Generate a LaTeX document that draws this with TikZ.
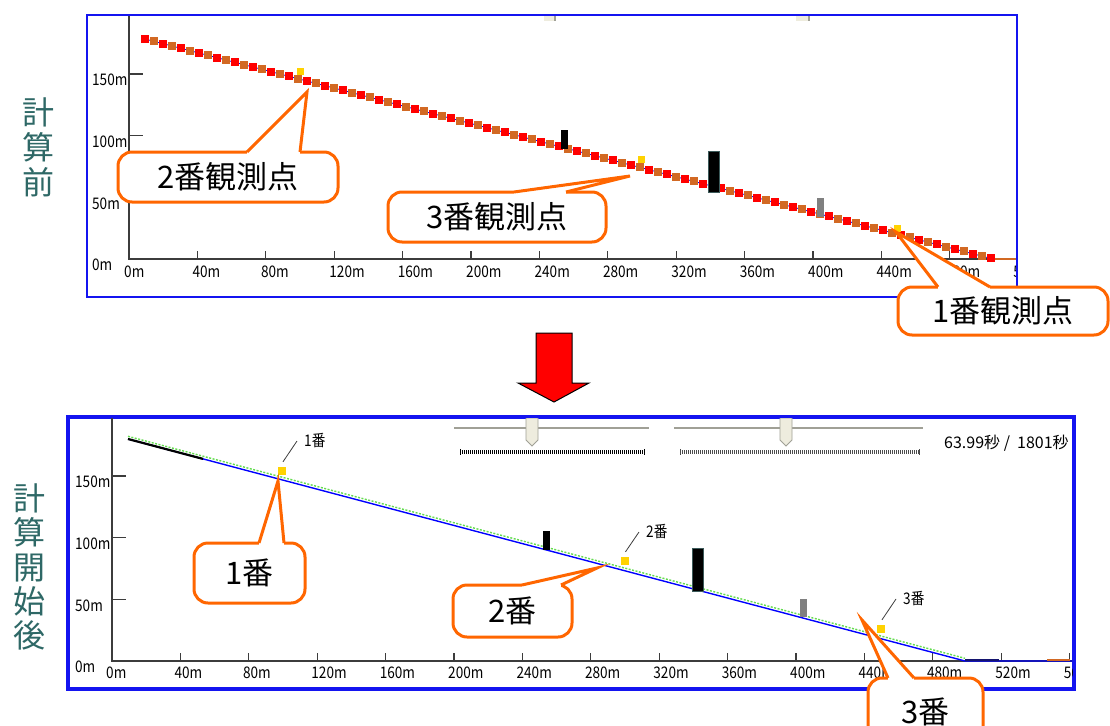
\documentclass[tikz,border=0pt]{standalone}
\usepackage{fontspec}
\newfontfamily\jp{Noto Sans CJK JP}
\newfontfamily\ui[FakeStretch=0.85]{Noto Sans CJK JP}
\definecolor{panelblue}{RGB}{20,20,240}
\definecolor{calloutorange}{RGB}{255,102,0}
\definecolor{dotorange}{RGB}{210,105,35}
\definecolor{obsyellow}{RGB}{255,210,0}
\definecolor{sideteal}{RGB}{46,104,102}
\definecolor{axisgray}{RGB}{60,60,60}
\definecolor{thumbbeige}{RGB}{238,236,222}
\definecolor{trackgray}{RGB}{160,160,150}
\definecolor{slopegreen}{RGB}{100,220,80}
\definecolor{barslate}{RGB}{60,90,90}
\definecolor{flatnavy}{RGB}{20,20,110}
\begin{document}
\begin{tikzpicture}[x=1pt, y=-1pt,
  panel/.style={draw=panelblue, fill=white},
  axis/.style={draw=axisgray, line width=1.3pt},
  axlbl/.style={font=\ui\fontsize{16}{16}\selectfont, anchor=west, inner sep=0pt},
  callout/.style={draw=calloutorange, line width=3pt, fill=white, rounded corners=14pt,
    inner sep=0pt, font=\jp\fontsize{31}{31}\selectfont},
  ptr/.style={draw=calloutorange, line width=3pt},
  obspt/.style={fill=obsyellow, minimum size=8pt, inner sep=0pt},
  leader/.style={draw=axisgray, line width=0.8pt},
  sidelbl/.style={font=\jp\fontsize{32}{35}\selectfont, text=sideteal, align=center, inner sep=0pt},
  thumb/.style={fill=thumbbeige, draw=trackgray, line width=0.8pt}]
  \useasboundingbox (0,0) rectangle (1110,725);

  % panel before the run
  \draw[panel, line width=2.5pt] (87,15) rectangle (1017,297);
  \begin{scope}
    \clip (88.3,16.3) rectangle (1015.7,295.7);
    \fill[thumbbeige] (544,16) rectangle (556,21);
    \fill[trackgray] (554,16) rectangle (556,21);
    \fill[thumbbeige] (796,16) rectangle (810,21);
    \fill[trackgray] (808,16) rectangle (810,21);
    \draw[axis] (129,15) -- (129,259) -- (1017,259);
    \foreach \v in {0,40,...,520}{
      \pgfmathsetmacro{\xx}{129+1.71*\v}
      \draw[axis] (\xx,259) -- (\xx,251);
      \node[axlbl] (tx\v) at (\xx-5,272) {\v m};
    }
    \foreach \v/\yy in {0/259,50/197.3,100/135.6,150/74}{
      \ifnum\v>0 \draw[axis] (129,\yy) -- (143,\yy);\fi
      \node[axlbl] (ty\v) at (92,\yy+6) {\v m};
    }
    \draw[blue, line width=0.8pt] (145,39) -- (993,259);
    \draw[dotorange, line width=2pt] (993,259) -- (1017,259);
    \foreach \i in {0,...,94}{
      \pgfmathsetmacro{\px}{145+9*\i}
      \pgfmathsetmacro{\py}{39+0.2594*9*\i}
      \ifodd\i \def\dotcol{dotorange}\else\def\dotcol{red}\fi
      \fill[\dotcol] (\px-4,\py-4) rectangle ++(8,8);
    }
    \fill[black] (561,130) rectangle (568,149);
    \filldraw[fill=black, draw=barslate] (708.5,151) rectangle (719.5,192);
    \fill[gray] (817,198) rectangle (824,217);
    \node[obspt, minimum size=7pt] (o2) at (300,71) {};
    \node[obspt, minimum size=7pt] (o3) at (641,159) {};
    \node[obspt, minimum size=7pt] (o1) at (897,228) {};
  \end{scope}

  % callouts, top
  \node[callout, minimum width=220pt, minimum height=50pt] (c2) at (228,177) {2番観測点};
  \coordinate (c2a) at (247,152); \coordinate (c2b) at (300,152); \coordinate (c2t) at (307,92);
  \fill[white] (c2a) -- (c2t) -- (c2b) -- cycle;
  \draw[white, line width=3.4pt] (c2a) -- (c2b);
  \draw[ptr] (c2a) -- (c2t) -- (c2b);
  \node[callout, minimum width=218pt, minimum height=50pt] (c3) at (497,217) {3番観測点};
  \coordinate (c3a) at (514,192); \coordinate (c3b) at (566,192); \coordinate (c3t) at (630,176);
  \fill[white] (c3a) -- (c3t) -- (c3b) -- cycle;
  \draw[white, line width=3.4pt] (c3a) -- (c3b);
  \draw[ptr] (c3a) -- (c3t) -- (c3b);
  \node[callout, minimum width=210pt, minimum height=48pt] (c1) at (1003,311) {1番観測点};
  \coordinate (c1a) at (938,287); \coordinate (c1b) at (990,287); \coordinate (c1t) at (896,232);
  \fill[white] (c1a) -- (c1t) -- (c1b) -- cycle;
  \draw[white, line width=3.4pt] (c1a) -- (c1b);
  \draw[ptr] (c1a) -- (c1t) -- (c1b);

  % arrow between the panels
  \filldraw[fill=red, draw=black, line width=1pt] (536,333) -- (572,333) -- (572,383) -- (589,383)
    -- (554,402) -- (518,383) -- (536,383) -- cycle;

  % panel after the start
  \draw[panel, line width=3.5pt] (68,417) rectangle (1074,689);
  \begin{scope}
    \clip (69.8,418.8) rectangle (1072.2,687.2);
    \draw[trackgray, line width=2pt] (454,428) -- (649,428);
    \draw[trackgray, line width=2pt] (674,428) -- (923,428);
    \draw[black, line width=4pt, dash pattern=on 1pt off 1pt] (460,452) -- (644,452);
    \draw[black!70, line width=3.5pt, dash pattern=on 0.7pt off 1.3pt] (680,452) -- (919,452);
    \draw[black, line width=1pt] (460,449) -- (460,455) (644,449) -- (644,455);
    \draw[black!70, line width=1pt] (680,449) -- (680,455) (919,449) -- (919,455);
    \draw[thumb] (526,418) -- (538,418) -- (538,440) -- (532,446) -- (526,440) -- cycle;
    \draw[thumb] (780,418) -- (792,418) -- (792,440) -- (786,446) -- (780,440) -- cycle;
    \node[axlbl, font=\jp\fontsize{16}{16}\selectfont] (timer) at (944,443) {63.99秒\ /\ \ 1801秒};
    \draw[axis] (112,417) -- (112,661) -- (1074,661);
    \foreach \v in {0,40,...,560}{
      \pgfmathsetmacro{\xx}{112+1.71*\v}
      \draw[axis] (\xx,661) -- (\xx,653);
      \node[axlbl] (bx\v) at (\xx-6,673) {\v m};
    }
    \foreach \v/\yy in {0/661,50/599.3,100/537.6,150/476}{
      \ifnum\v>0 \draw[axis] (112,\yy) -- (126,\yy);\fi
      \node[axlbl] (by\v) at (75,\yy+6) {\v m};
    }
    \draw[slopegreen, line width=1.4pt, dash pattern=on 2pt off 1.5pt] (128,436.3) -- (965,658.3);
    \draw[blue, line width=1.4pt] (128,439) -- (965,661) -- (1074,661);
    \draw[black, line width=2.2pt] (128,439) -- (203,458.9);
    \draw[flatnavy, line width=2.2pt] (965,660) -- (999,660);
    \draw[dotorange, line width=2pt] (1047,660) -- (1070,660);
    \fill[black] (543,531) rectangle (550,550);
    \filldraw[fill=black, draw=barslate] (692.5,548) rectangle (703.5,591);
    \fill[gray] (800,599) rectangle (807,617);
    \node[obspt] (p1) at (282,471) {};
    \node[obspt] (p2) at (624.5,561) {};
    \node[obspt] (p3) at (881,629) {};
    \node[axlbl] (l1) at (304,441) {1番};
    \node[axlbl] (l2) at (646,532) {2番};
    \node[axlbl] (l3) at (903,599) {3番};
    \draw[leader] ([xshift=1pt, yshift=5pt]p1.north) -- ([xshift=-7pt]l1.west);
    \draw[leader] ([xshift=1pt, yshift=5pt]p2.north) -- ([xshift=-7pt]l2.west);
    \draw[leader] ([xshift=1pt, yshift=5pt]p3.north) -- ([xshift=-7pt]l3.west);
  \end{scope}

  % callouts, bottom
  \node[callout, minimum width=111pt, minimum height=60pt] (d1) at (249.5,573) {1番};
  \coordinate (d1a) at (259,543); \coordinate (d1b) at (284,543); \coordinate (d1t) at (278,481);
  \fill[white] (d1a) -- (d1t) -- (d1b) -- cycle;
  \draw[white, line width=3.4pt] (d1a) -- (d1b);
  \draw[ptr] (d1a) -- (d1t) -- (d1b);
  \node[callout, minimum width=119pt, minimum height=52pt] (d2) at (512.5,611) {2番};
  \coordinate (d2a) at (522,585); \coordinate (d2b) at (561,585); \coordinate (d2t) at (597,568);
  \fill[white] (d2a) -- (d2t) -- (d2b) -- cycle;
  \draw[white, line width=3.4pt] (d2a) -- (d2b);
  \draw[ptr] (d2a) -- (d2t) -- (d2b);
  \node[callout, minimum width=115pt, minimum height=67pt] (d3) at (925.5,711.5) {3番};
  \coordinate (d3a) at (888,678); \coordinate (d3b) at (914,678); \coordinate (d3t) at (862,620);
  \fill[white] (d3a) -- (d3t) -- (d3b) -- cycle;
  \draw[white, line width=3.4pt] (d3a) -- (d3b);
  \draw[ptr] (d3a) -- (d3t) -- (d3b);

  % side labels
  \node[sidelbl] (before) at (39,147) {計\\算\\前};
  \node[sidelbl, font=\jp\fontsize{32}{34.3}\selectfont] (after) at (29,567) {計\\算\\開\\始\\後};
\end{tikzpicture}
\end{document}
